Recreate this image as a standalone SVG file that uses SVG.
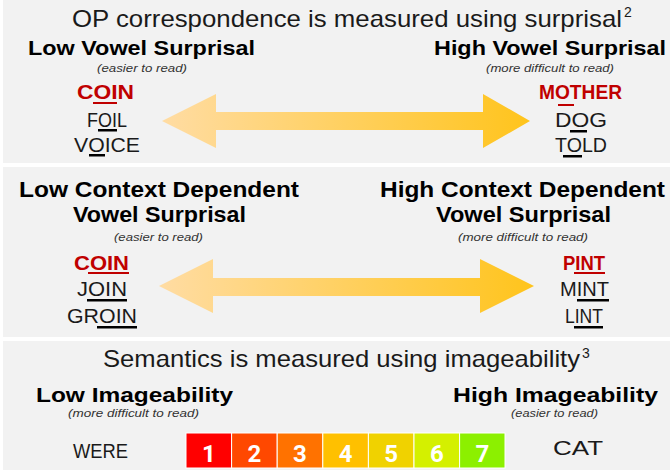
<svg xmlns="http://www.w3.org/2000/svg" width="670" height="470" viewBox="0 0 670 470">
<style>
.panel{fill:#F2F2F2}
.t{font-family:"Liberation Sans",Arial,sans-serif;fill:#1a1a1a}
.title{font-size:24px}
.sup{font-size:14px}
.hd{font-size:21px;font-weight:bold;fill:#000}
.hd2{font-size:22px;font-weight:bold;fill:#000}
.it{font-size:11px;font-style:italic;fill:#333}
.w{font-size:21px}
.wr{font-size:21px;font-weight:bold;fill:#C00000}
.ul{fill:#000}
.ulr{fill:#C00000}
.num{font-family:Roboto,"Liberation Sans",sans-serif;font-size:24px;font-weight:bold;fill:#fff;text-anchor:middle}
.box{stroke:#fff;stroke-width:1}
</style>
<defs>
<linearGradient id="g1" gradientUnits="userSpaceOnUse" x1="162" y1="0" x2="530" y2="0">
<stop offset="0" stop-color="#FFDCA3"/><stop offset="1" stop-color="#FFC41C"/>
</linearGradient>
<linearGradient id="g2" gradientUnits="userSpaceOnUse" x1="159" y1="0" x2="534" y2="0">
<stop offset="0" stop-color="#FFDCA3"/><stop offset="1" stop-color="#FFC41C"/>
</linearGradient>
</defs>
<rect class="panel" x="3" y="0" width="667" height="163"/>
<rect class="panel" x="3" y="167" width="667" height="170"/>
<rect class="panel" x="3" y="341" width="667" height="129"/>

<g id="connectors">
<polygon fill="url(#g1)" points="162,121 216,94 216,112 483,112 483,94 530,121 483,148 483,130 216,130 216,148"/>
<polygon fill="url(#g2)" points="159,286 213,259 213,278 480,278 480,259 534,286 480,313 480,296 213,296 213,313"/>
</g>

<g id="title-op">
<text class="t title" x="72" y="27" textLength="550" lengthAdjust="spacingAndGlyphs">OP correspondence is measured using surprisal</text>
<text class="t sup" x="624" y="17">2</text>
</g>

<g id="low-vowel">
<text class="t hd" x="28" y="55" textLength="227" lengthAdjust="spacingAndGlyphs">Low Vowel Surprisal</text>
<text class="t it" x="97" y="72" textLength="90" lengthAdjust="spacingAndGlyphs">(easier to read)</text>
<text class="t wr" x="77" y="99" textLength="57" lengthAdjust="spacingAndGlyphs">COIN</text>
<rect class="ulr" x="93" y="102" width="24" height="2"/>
<text class="t w" x="87" y="127" textLength="40" lengthAdjust="spacingAndGlyphs">FOIL</text>
<rect class="ul" x="98" y="129" width="19" height="2.5"/>
<text class="t w" x="74" y="152" textLength="66" lengthAdjust="spacingAndGlyphs">VOICE</text>
<rect class="ul" x="89" y="154" width="16" height="2.5"/>
</g>

<g id="high-vowel">
<text class="t hd" x="434" y="55" textLength="232" lengthAdjust="spacingAndGlyphs">High Vowel Surprisal</text>
<text class="t it" x="486" y="72" textLength="128" lengthAdjust="spacingAndGlyphs">(more difficult to read)</text>
<text class="t wr" x="539" y="99" textLength="83" lengthAdjust="spacingAndGlyphs">MOTHER</text>
<rect class="ulr" x="558" y="104" width="16" height="2"/>
<text class="t w" x="555" y="127" textLength="52" lengthAdjust="spacingAndGlyphs">DOG</text>
<rect class="ul" x="570" y="130" width="17" height="2.5"/>
<text class="t w" x="555" y="152" textLength="52" lengthAdjust="spacingAndGlyphs">TOLD</text>
<rect class="ul" x="563" y="155" width="19" height="2.5"/>
</g>

<g id="low-context">
<text class="t hd2" x="19" y="197" textLength="280" lengthAdjust="spacingAndGlyphs">Low Context Dependent</text>
<text class="t hd2" x="73" y="222" textLength="173" lengthAdjust="spacingAndGlyphs">Vowel Surprisal</text>
<text class="t it" x="114" y="241" textLength="89" lengthAdjust="spacingAndGlyphs">(easier to read)</text>
<text class="t wr" x="74" y="270" textLength="55" lengthAdjust="spacingAndGlyphs">COIN</text>
<rect class="ulr" x="88" y="272" width="41" height="2"/>
<text class="t w" x="77" y="296" textLength="50" lengthAdjust="spacingAndGlyphs">JOIN</text>
<rect class="ul" x="87" y="299" width="40" height="2.5"/>
<text class="t w" x="67" y="323" textLength="70" lengthAdjust="spacingAndGlyphs">GROIN</text>
<rect class="ul" x="97" y="326" width="40" height="2.5"/>
</g>

<g id="high-context">
<text class="t hd2" x="380" y="197" textLength="285" lengthAdjust="spacingAndGlyphs">High Context Dependent</text>
<text class="t hd2" x="436" y="222" textLength="175" lengthAdjust="spacingAndGlyphs">Vowel Surprisal</text>
<text class="t it" x="458" y="241" textLength="130" lengthAdjust="spacingAndGlyphs">(more difficult to read)</text>
<text class="t wr" x="563" y="270" textLength="42" lengthAdjust="spacingAndGlyphs">PINT</text>
<rect class="ulr" x="574" y="272" width="31" height="2"/>
<text class="t w" x="560" y="296" textLength="49" lengthAdjust="spacingAndGlyphs">MINT</text>
<rect class="ul" x="577" y="299" width="32" height="2.5"/>
<text class="t w" x="565" y="323" textLength="38" lengthAdjust="spacingAndGlyphs">LINT</text>
<rect class="ul" x="574" y="326" width="29" height="2.5"/>
</g>

<g id="title-sem">
<text class="t title" x="103" y="367" textLength="477" lengthAdjust="spacingAndGlyphs">Semantics is measured using imageability</text>
<text class="t sup" x="582" y="358">3</text>
</g>

<g id="low-image">
<text class="t hd" x="36" y="402" textLength="197" lengthAdjust="spacingAndGlyphs">Low Imageability</text>
<text class="t it" x="68" y="417" textLength="131" lengthAdjust="spacingAndGlyphs">(more difficult to read)</text>
<text class="t w" x="73" y="458" textLength="55" lengthAdjust="spacingAndGlyphs">WERE</text>
</g>

<g id="high-image">
<text class="t hd" x="453" y="402" textLength="205" lengthAdjust="spacingAndGlyphs">High Imageability</text>
<text class="t it" x="511" y="417" textLength="87" lengthAdjust="spacingAndGlyphs">(easier to read)</text>
<text class="t w" x="553" y="455" textLength="50" lengthAdjust="spacingAndGlyphs">CAT</text>
</g>

<g id="scale">
<rect class="box" x="186" y="433" width="45.6" height="35" fill="#FF0000"/>
<rect class="box" x="231.6" y="433" width="45.6" height="35" fill="#FF4800"/>
<rect class="box" x="277.2" y="433" width="45.6" height="35" fill="#FF7200"/>
<rect class="box" x="322.8" y="433" width="45.6" height="35" fill="#FFC000"/>
<rect class="box" x="368.4" y="433" width="45.6" height="35" fill="#F0D200"/>
<rect class="box" x="414" y="433" width="45.6" height="35" fill="#D4F000"/>
<rect class="box" x="459.6" y="433" width="45.4" height="35" fill="#8CF000"/>
<text class="num" x="208.8" y="462">1</text>
<text class="num" x="254.4" y="462">2</text>
<text class="num" x="300" y="462">3</text>
<text class="num" x="345.6" y="462">4</text>
<text class="num" x="391.2" y="462">5</text>
<text class="num" x="436.8" y="462">6</text>
<text class="num" x="482.3" y="462">7</text>
</g>
</svg>
